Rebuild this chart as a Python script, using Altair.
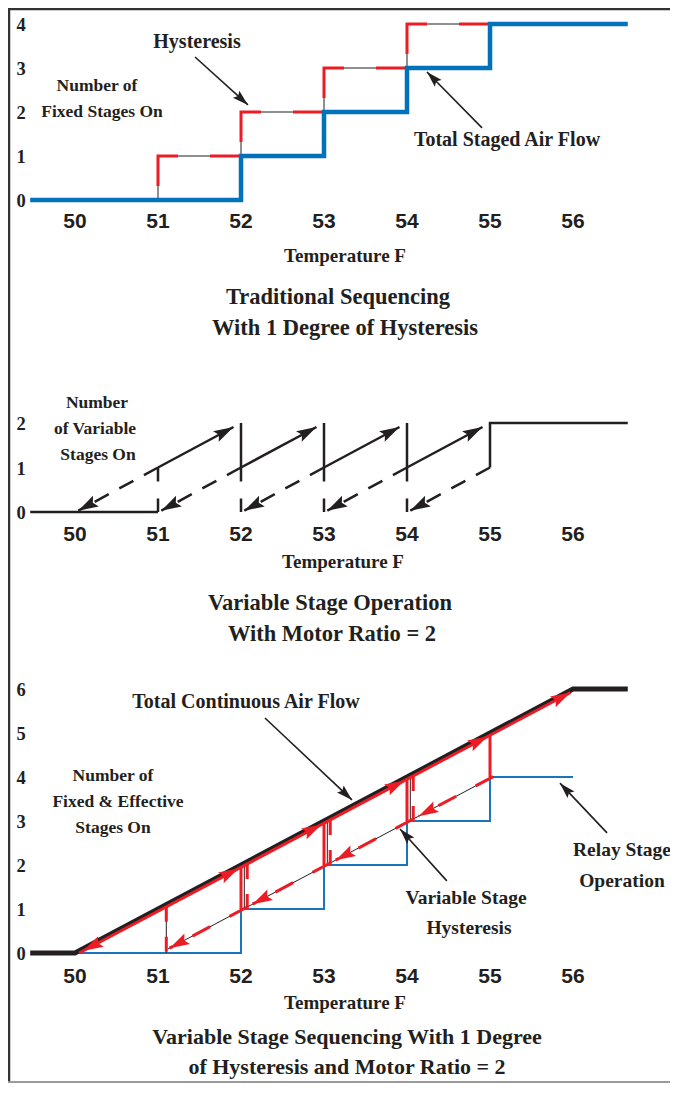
import math
import altair as alt
import pandas as pd

# ------------------------------------------------------------------ data
x_ticks = [50, 51, 52, 53, 54, 55, 56]
p1_y_ticks = [0, 1, 2, 3, 4]
p2_y_ticks = [0, 1, 2]
p3_y_ticks = [0, 1, 2, 3, 4, 5, 6]

# Panel 1 : traditional sequencing
p1_flow_T = [49.46, 52, 52, 53, 53, 54, 54, 55, 55, 56.66]
p1_flow_N = [0, 0, 1, 1, 2, 2, 3, 3, 4, 4]
p1_hyst_T = [51, 51, 52, 52, 53, 53, 54, 54, 55]
p1_hyst_N = [0, 1, 1, 2, 2, 3, 3, 4, 4]

# Panel 2 : variable stage operation
p2_base_T = [49.46, 51]
p2_base_N = [0, 0]
p2_top_T = [55, 55, 56.66]
p2_top_N = [1, 2, 2]
p2_rise_T0 = [51, 52, 53, 54]
p2_rise_N0 = [1, 1, 1, 1]
p2_rise_T1 = [51.91, 52.91, 53.91, 54.91]
p2_rise_N1 = [1.91, 1.91, 1.91, 1.91]
p2_drop_T = [52, 53, 54]
p2_drop_N0 = [2, 2, 2]
p2_drop_N1 = [1, 1, 1]
p2_dv_T = [51, 52, 53, 54]
p2_dv_N0 = [1, 1, 1, 1]
p2_dv_N1 = [0, 0, 0, 0]
p2_fall_T0 = [51, 52, 53, 54, 55]
p2_fall_N0 = [1, 1, 1, 1, 1]
p2_fall_T1 = [50.04, 51.04, 52.04, 53.04, 54.04]
p2_fall_N1 = [0.03, 0.03, 0.03, 0.03, 0.03]

# Panel 3 : variable stage sequencing
p3_total_T = [49.46, 50, 56, 56.66]
p3_total_N = [0, 0, 6, 6]
p3_relay_T = [50, 52, 52, 53, 53, 54, 54, 55, 55, 56]
p3_relay_N = [0, 0, 1, 1, 2, 2, 3, 3, 4, 4]
p3_up_T = [50.05, 55.97]
p3_up_N = [0, 5.92]
p3_uptip_T = [51.97, 52.97, 53.97, 54.97, 55.97]
p3_uptip_N = [1.92, 2.92, 3.92, 4.92, 5.92]
p3_downtip_T = [50.1]
p3_downtip_N = [0.05]
p3_drop_T = [52, 53, 54, 55]
p3_drop_N0 = [1.95, 2.95, 3.95, 4.95]
p3_drop_N1 = [1, 2, 3, 4]
p3_hv_T = [51.1, 52.075, 53.075, 54.075]
p3_hvk_T = [51.1, 52.04, 53.04, 54.04]
p3_hv_N0 = [1.05, 2.02, 3.02, 4.02]
p3_hv_N1 = [0, 1, 2, 3]
p3_ret_T = [55.04, 51.12]
p3_ret_N = [4.01, 0.09]
p3_retseg_T0 = [55.04, 54.075, 53.075, 52.075]
p3_retseg_N0 = [4.01, 3.045, 2.045, 1.045]
p3_retseg_T1 = [54.14, 53.14, 52.14, 51.14]
p3_retseg_N1 = [3.11, 2.11, 1.11, 0.11]

# annotation arrows (start -> tip)
p1_arrow_T0 = [51.446, 54.904]
p1_arrow_N0 = [3.25, 1.64]
p1_arrow_T1 = [52.084, 54.241]
p1_arrow_N1 = [2.16, 2.91]
p3_arrow_T0 = [52.289, 54.48, 56.41]
p3_arrow_N0 = [5.34, 1.64, 2.73]
p3_arrow_T1 = [53.337, 53.916, 55.843]
p3_arrow_N1 = [3.48, 2.82, 3.86]

axis_title = "Temperature F"
p1_title = ["Traditional Sequencing", "With 1 Degree of Hysteresis"]
p2_title = ["Variable Stage Operation", "With Motor Ratio = 2"]
p3_title = ["Variable Stage Sequencing With 1 Degree", "of Hysteresis and Motor Ratio = 2"]
p1_notes = ["Hysteresis", "Number of", "Fixed Stages On", "Total Staged Air Flow"]
p2_notes = ["Number", "of Variable", "Stages On"]
p3_notes = ["Total Continuous Air Flow", "Number of", "Fixed & Effective", "Stages On",
            "Variable Stage", "Hysteresis", "Relay Stage", "Operation"]

# ------------------------------------------------------------------ style / layout
W, H = 662, 1075
KX = 83.0
X_LEFT = 50 - 67 / KX
xs = alt.Scale(domain=[X_LEFT, X_LEFT + W / KX], nice=False, zero=False)
YD = {1: [0, 4], 2: [0, 2], 3: [0, 6]}
YR = {1: [192, 16], 2: [504, 415], 3: [945, 681]}
KY = {p: (YR[p][0] - YR[p][1]) / (YD[p][1] - YD[p][0]) for p in YD}

INK = "#231f20"
RED = "#ed1c24"
BLUE1 = "#0072bc"
BLUE3 = "#1b75bc"
SERIF = "Liberation Serif"
SANS = "Liberation Sans Narrow, Liberation Sans"
ARROW = "M0,0L0.6,2L0,1.65L-0.6,2Z"
ONE = pd.DataFrame({"k": [0]})
DY = 0


def xe(f="T"):
    return alt.X(f"{f}:Q", scale=xs, axis=None)


def ye(p, f="N"):
    return alt.Y(f"{f}:Q", scale=alt.Scale(domain=YD[p], range=YR[p], nice=False, zero=False), axis=None)


def path(p, T, N, color, width, **kw):
    df = pd.DataFrame({"T": T, "N": N, "o": list(range(len(T)))})
    return alt.Chart(df).mark_line(color=color, strokeWidth=width, strokeCap="butt",
                                   strokeJoin="miter", **kw).encode(x=xe(), y=ye(p), order="o:Q")


def segs(p, T0, N0, T1, N1, color, width, **kw):
    df = pd.DataFrame({"T": T0, "N": N0, "T2": T1, "N2": N1})
    return alt.Chart(df).mark_rule(color=color, strokeWidth=width, strokeCap="butt", **kw).encode(
        x=xe(), y=ye(p), x2=alt.X2("T2"), y2=alt.Y2("N2"))


def heads(p, tipT, tipN, dirT, dirN, color, length):
    ang = [(math.degrees(math.atan2(dt * KX, dn * KY[p])) + 360) % 360 for dt, dn in zip(dirT, dirN)]
    df = pd.DataFrame({"T": tipT, "N": tipN, "a": ang})
    return alt.Chart(df).mark_point(shape=ARROW, filled=True, size=length ** 2, color=color,
                                    opacity=1, strokeWidth=0).encode(
        x=xe(), y=ye(p), angle=alt.Angle("a:Q", scale=None))


def arrows(p, T0, N0, T1, N1, color, width, length, **kw):
    dT = [b - a for a, b in zip(T0, T1)]
    dN = [b - a for a, b in zip(N0, N1)]
    return [segs(p, T0, N0, T1, N1, color, width, **kw), heads(p, T1, N1, dT, dN, color, length)]


def label(s, px, py, size, font=SERIF):
    return alt.Chart(ONE).mark_text(text=s, font=font, fontSize=size, fontWeight="bold", color=INK,
                                    align="center", baseline="middle", dy=DY).encode(
        x=alt.value(px - 8), y=alt.value(py - 8))


def xticks(py):
    df = pd.DataFrame({"T": x_ticks, "s": [str(v) for v in x_ticks]})
    return alt.Chart(df).mark_text(font=SANS, fontSize=21, fontWeight="bold", color=INK,
                                   baseline="middle", dy=DY).encode(x=xe(), y=alt.value(py - 8), text="s:N")


def yticks(p, ticks):
    df = pd.DataFrame({"N": ticks, "s": [str(v) for v in ticks]})
    return alt.Chart(df).mark_text(font=SERIF, fontSize=18.5, fontWeight="bold", color=INK,
                                   baseline="middle", dy=DY + 1).encode(x=alt.value(21 - 8), y=ye(p), text="s:N")


layers = []

# frame
layers.append(alt.Chart(ONE).mark_rule(color="#333333", strokeWidth=2.5).encode(
    x=alt.value(1), y=alt.value(0), y2=alt.value(H - 1)))
layers.append(alt.Chart(ONE).mark_rule(color="#333333", strokeWidth=2.5).encode(
    x=alt.value(0), x2=alt.value(W), y=alt.value(1)))
layers.append(alt.Chart(ONE).mark_rule(color="#9a9a9a", strokeWidth=2).encode(
    x=alt.value(0), x2=alt.value(W), y=alt.value(H - 1)))

# ---- panel 1
layers.append(path(1, p1_hyst_T, p1_hyst_N, INK, 1))
layers.append(path(1, p1_hyst_T, p1_hyst_N, RED, 3, strokeDash=[50, 32, 31, 14], strokeDashOffset=113))
layers.append(path(1, p1_flow_T, p1_flow_N, BLUE1, 4.5))
layers += arrows(1, p1_arrow_T0, p1_arrow_N0, p1_arrow_T1, p1_arrow_N1, INK, 1.6, 16)
layers.append(yticks(1, p1_y_ticks))
layers.append(xticks(222))
layers.append(label(p1_notes[0], 197, 42, 20))
layers.append(label(p1_notes[1], 97, 86, 17.5))
layers.append(label(p1_notes[2], 102, 112, 17.5))
layers.append(label(p1_notes[3], 507, 140, 20))
layers.append(label(axis_title, 345, 256, 19))
layers.append(label(p1_title[0], 338, 297, 22.5))
layers.append(label(p1_title[1], 345, 328, 22.5))

# ---- panel 2
layers.append(path(2, p2_base_T, p2_base_N, INK, 2.5))
layers.append(path(2, p2_top_T, p2_top_N, INK, 2.5))
layers.append(segs(2, p2_drop_T, p2_drop_N0, p2_drop_T, p2_drop_N1, INK, 2.5))
layers.append(segs(2, p2_dv_T, p2_dv_N0, p2_dv_T, p2_dv_N1, INK, 2.5, strokeDash=[14, 17]))
layers += arrows(2, p2_rise_T0, p2_rise_N0, p2_rise_T1, p2_rise_N1, INK, 2.5, 20)
layers += arrows(2, p2_fall_T0, p2_fall_N0, p2_fall_T1, p2_fall_N1, INK, 2.5, 20, strokeDash=[16, 12])
layers.append(yticks(2, p2_y_ticks))
layers.append(xticks(535))
layers.append(label(p2_notes[0], 97, 403, 17.5))
layers.append(label(p2_notes[1], 95, 429, 17.5))
layers.append(label(p2_notes[2], 98, 455, 17.5))
layers.append(label(axis_title, 343, 562, 19))
layers.append(label(p2_title[0], 330, 603, 22.5))
layers.append(label(p2_title[1], 332, 634, 22.5))

# ---- panel 3
layers.append(path(3, p3_relay_T, p3_relay_N, BLUE3, 2))
layers.append(path(3, p3_ret_T, p3_ret_N, INK, 1))
layers.append(segs(3, p3_hvk_T, p3_hv_N0, p3_hvk_T, p3_hv_N1, INK, 1))
layers.append(path(3, p3_total_T, p3_total_N, INK, 5))
layers.append(path(3, p3_up_T, p3_up_N, RED, 3))
layers.append(segs(3, p3_drop_T, p3_drop_N0, p3_drop_T, p3_drop_N1, RED, 3))
layers.append(segs(3, p3_hv_T, p3_hv_N0, p3_hv_T, p3_hv_N1, RED, 3, strokeDash=[15, 15]))
layers.append(segs(3, p3_retseg_T0, p3_retseg_N0, p3_retseg_T1, p3_retseg_N1, RED, 3, strokeDash=[20, 22]))
layers.append(heads(3, p3_retseg_T1, p3_retseg_N1, [-1] * 4, [-1] * 4, RED, 20))
layers.append(heads(3, p3_uptip_T, p3_uptip_N, [1] * 5, [1] * 5, RED, 20))
layers.append(heads(3, p3_downtip_T, p3_downtip_N, [-1], [-1], RED, 20))
layers += arrows(3, p3_arrow_T0, p3_arrow_N0, p3_arrow_T1, p3_arrow_N1, INK, 1.6, 16)
layers.append(yticks(3, p3_y_ticks))
layers.append(xticks(977))
layers.append(label(p3_notes[0], 246, 702, 20))
layers.append(label(p3_notes[1], 113, 776, 17.5))
layers.append(label(p3_notes[2], 118, 802, 17.5))
layers.append(label(p3_notes[3], 113, 828, 17.5))
layers.append(label(p3_notes[4], 466, 898, 19.5))
layers.append(label(p3_notes[5], 469, 928, 19.5))
layers.append(label(p3_notes[6], 622, 850, 19.5))
layers.append(label(p3_notes[7], 622, 881, 19.5))
layers.append(label(axis_title, 345, 1003, 19))
layers.append(label(p3_title[0], 347, 1037, 22))
layers.append(label(p3_title[1], 347, 1067, 22))

chart = alt.layer(*layers).resolve_scale(y="independent").properties(
    width=W, height=H, padding=0, autosize=alt.AutoSizeParams(type="none")
).configure_view(stroke=None)

chart.save("out.html", embed_options={"renderer": "svg", "actions": False})
